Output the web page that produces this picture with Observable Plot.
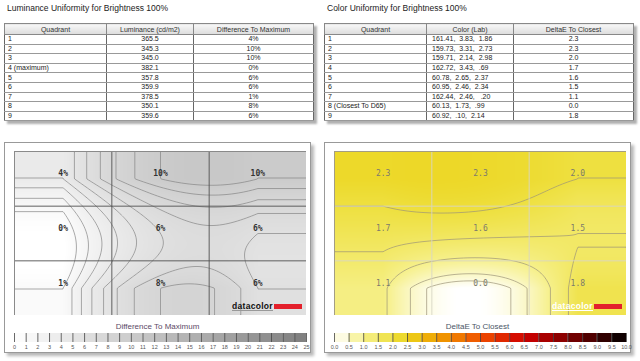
<!DOCTYPE html>
<html><head><meta charset="utf-8">
<script src="https://cdn.jsdelivr.net/npm/d3@7"></script>
<script src="https://cdn.jsdelivr.net/npm/@observablehq/plot@0.6"></script>
<style>
body{margin:0;background:#fff;font-family:"Liberation Sans",Arial,sans-serif;}
#root{position:relative;width:640px;height:361px;overflow:hidden;background:#fff;}
.abs{position:absolute;}
.title{font-size:8.5px;color:#222;white-space:nowrap;}
table{position:absolute;border-collapse:collapse;font-size:7px;color:#222;box-shadow:3px 3px 2px #b0b0b0;table-layout:fixed;border:1px solid #777;}
th{font-weight:normal;padding:0;border:1px solid #888;background:linear-gradient(#f7f7f7,#dcdcdc);color:#333;line-height:9px;height:10px;}
td{padding:0 3px;border-top:1px solid #999;border-bottom:1px solid #999;border-left:1px solid #666;border-right:1px solid #666;line-height:8px;height:8.6px;white-space:pre;overflow:hidden;color:#222;}
td.c{text-align:center;}
.panel{position:absolute;border:1px solid #999;box-shadow:3px 3px 3px #b8b8b8;background:#fff;box-sizing:border-box;}
.ltitle{position:absolute;font-size:8px;text-align:center;white-space:nowrap;}
.logo{position:absolute;display:flex;align-items:center;white-space:nowrap;}
.logo span.t{font:bold 8.5px "Liberation Sans",Arial,sans-serif;letter-spacing:0.3px;border-bottom:1px solid #999;line-height:8px;}
.logo span.b{display:inline-block;width:28px;height:5px;background:#e3202c;margin-left:1px;}
</style></head>
<body><div id="root"></div>
<script>
// ---- data ----
const lumTitle = "Luminance Uniformity for Brightness 100%";
const colTitle = "Color Uniformity for Brightness 100%";
const lumHeaders = ["Quadrant", "Luminance (cd/m2)", "Difference To Maximum"];
const colHeaders = ["Quadrant", "Color (Lab)", "DeltaE To Closest"];
const lumQuadrants = ["1", "2", "3", "4 (maximum)", "5", "6", "7", "8", "9"];
const luminance = [365.5, 345.3, 345.0, 382.1, 357.8, 359.9, 378.5, 350.1, 359.6];
const diffToMax = [4, 10, 10, 0, 6, 6, 1, 8, 6];
const colQuadrants = ["1", "2", "3", "4", "5", "6", "7", "8 (Closest To D65)", "9"];
const labColor = ["161.41,  3.83,  1.86", "159.73,  3.31,  2.73", "159.71,  2.14,  2.98", "162.72,  3.43,  .69", "60.78,  2.65,  2.37", "60.95,  2.46,  2.34", "162.44,  2.46,   .20", "60.13,  1.73,  .99", "60.92,  .10,  2.14"];
const deltaE = [2.3, 2.3, 2.0, 1.7, 1.6, 1.5, 1.1, 0.0, 1.8];
const gridCols = [0, 1, 2];
const gridRows = [0, 1, 2];
const lumLegendTicks = [0,1,2,3,4,5,6,7,8,9,10,11,12,13,14,15,16,17,18,19,20,21,22,23,24,25];
const deLegendTicks = [0,0.5,1,1.5,2,2.5,3,3.5,4,4.5,5,5.5,6,6.5,7,7.5,8,8.5,9,9.5,10];
const lumContours = [1,2,3,4,5,6,7,8,9,10];
const deContours = [0.25,0.5,1,1.5,2];
const lumLegendTitle = "Difference To Maximum";
const deLegendTitle = "DeltaE To Closest";
const logoText = "datacolor";

const grayScale = {type: "linear", domain: [0, 25], range: ["#ffffff", "#7e7e7e"], clamp: true, interpolate: "rgb"};
const heatScale = {type: "linear", domain: [0, 1, 2, 2.5, 3.5, 5, 6.5, 8, 10],
  range: ["#ffffff", "#f6f08a", "#eee040", "#ecd41c", "#f0a000", "#f05000", "#d00000", "#800000", "#000000"],
  clamp: true, interpolate: "rgb"};

const root = document.getElementById("root");
function el(tag, cls, style, text, parent) {
  const e = document.createElement(tag);
  if (cls) e.className = cls;
  Object.assign(e.style, style || {});
  if (text != null) e.textContent = text;
  (parent || root).appendChild(e);
  return e;
}

// ---- titles and tables ----
function table(left, headers, widths, c0, c1, c2, c1align) {
  const t = el("table", null, {left: left + "px", top: "23px", width: "309px"});
  const cg = document.createElement("colgroup");
  widths.forEach(w => { const c = document.createElement("col"); c.style.width = w + "px"; cg.appendChild(c); });
  t.appendChild(cg);
  const hr = document.createElement("tr");
  headers.forEach(h => { const th = document.createElement("th"); th.textContent = h; hr.appendChild(th); });
  t.appendChild(hr);
  c0.forEach((q, i) => {
    const tr = document.createElement("tr");
    [[q, ""], [c1[i], c1align], [c2[i], "c"]].forEach(([v, cls]) => {
      const td = document.createElement("td"); td.textContent = v; if (cls) td.className = cls; tr.appendChild(td);
    });
    t.appendChild(tr);
  });
  return t;
}
el("div", "title abs", {left: "7px", top: "3px"}, lumTitle);
el("div", "title abs", {left: "327px", top: "3px"}, colTitle);
table(4, lumHeaders, [102, 87, 120], lumQuadrants, luminance.map(d => d.toFixed(1)), diffToMax.map(d => d + "%"), "c");
const t2 = table(324, colHeaders, [102, 87, 120], colQuadrants, labColor, deltaE.map(d => d.toFixed(1)), "");
t2.querySelectorAll("tr td:nth-child(2)").forEach(td => td.style.paddingLeft = "5px");

// ---- panels ----
el("div", "panel", {left: "4px", top: "142px", width: "307px", height: "211px"});
el("div", "panel", {left: "324px", top: "142px", width: "307px", height: "211px"});

// smooth field through the 9 quadrant values (quadratic between centres, held flat beyond them)
function field(values) {
  const lo = gridCols[0], hi = gridCols[2], mid = gridCols[1];
  return (x, y) => {
    const u = Math.max(lo, Math.min(hi, x)) - mid, v = Math.max(gridRows[0], Math.min(gridRows[2], y)) - gridRows[1];
    const wx = [u * (u - 1) / 2, 1 - u * u, u * (u + 1) / 2];
    const wy = [v * (v - 1) / 2, 1 - v * v, v * (v + 1) / 2];
    let s = 0;
    for (let r = 0; r < 3; r++) for (let c = 0; c < 3; c++) s += wy[r] * wx[c] * values[r * 3 + c];
    return s;
  };
}

function heatmap(opts) {
  const {values, labels, color, thresholds, contourStroke, gridStroke, frameStroke, text} = opts;
  const cells = values.map((v, i) => ({c: gridCols[i % 3], r: gridRows[Math.floor(i / 3)], v, label: labels[i]}));
  const bounds = gridCols.slice(1).map(c => c - 0.5);
  const ext = {x1: gridCols[0] - 0.5, x2: gridCols[2] + 0.5, y1: gridRows[0] - 0.5, y2: gridRows[2] + 0.5};
  const f = field(values);
  return Plot.plot({
    width: 292, height: 164, margin: 0,
    x: {domain: [ext.x1, ext.x2], axis: null},
    y: {domain: [ext.y1, ext.y2], reverse: true, axis: null},
    color,
    marks: [
      Plot.raster({...ext, fill: f, pixelSize: 1}),
      Plot.contour({...ext, value: f, thresholds, fill: "none", stroke: contourStroke, strokeWidth: 0.7, pixelSize: 1}),
      Plot.ruleX(bounds, {stroke: gridStroke, strokeWidth: 0.9}),
      Plot.ruleY(bounds, {stroke: gridStroke, strokeWidth: 0.9}),
      Plot.frame({stroke: frameStroke}),
      Plot.text(cells, {x: "c", y: "r", text: "label", dy: -5, ...text})
    ]
  });
}

function place(node, left, top) {
  const d = el("div", "abs", {left: left + "px", top: top + "px", lineHeight: "0"});
  d.appendChild(node);
}

place(heatmap({values: diffToMax, labels: diffToMax.map(d => d + "%"), color: grayScale, thresholds: lumContours,
  contourStroke: "#858585", gridStroke: "#505050", frameStroke: "#8a8a8a",
  text: {fontFamily: "DejaVu Sans Mono", fontWeight: "bold", fontSize: 8, fill: "#333"}}), 14, 151);
place(heatmap({values: deltaE, labels: deltaE.map(d => d.toFixed(1)), color: heatScale, thresholds: deContours,
  contourStroke: "#9c9478", gridStroke: "#d8d6c4", frameStroke: "#a39d84",
  text: {fontFamily: "DejaVu Sans Mono", fontSize: 8, fill: "#7c7a6c", letterSpacing: "1px"}}), 334, 151);

// logos
function logo(left, col) {
  const d = el("div", "logo", {left: left + "px", top: "302px"});
  el("span", "t", {color: col, borderBottomColor: col === "#fff" ? "#fff" : "#999"}, logoText, d);
  el("span", "b", {}, null, d);
}
logo(232, "#111");
logo(552, "#fff");

// ---- legends ----
function legend(ticks, color, fmt) {
  const bins = ticks.slice(0, -1).map((t, i) => ({a: t, b: ticks[i + 1], m: (t + ticks[i + 1]) / 2}));
  return Plot.plot({
    width: 302, height: 18, marginLeft: 5, marginRight: 5, marginTop: 0, marginBottom: 9,
    x: {domain: [ticks[0], ticks[ticks.length - 1]], axis: null},
    y: {axis: null},
    color,
    style: {fontFamily: "Liberation Sans", overflow: "visible"},
    marks: [
      Plot.rect(bins, {x1: "a", x2: "b", fill: "m"}),
      Plot.ruleX(ticks, {stroke: "#444", strokeWidth: 0.8}),
      Plot.axisX(ticks, {tickSize: 0, tickPadding: 3, fontSize: 5.5, fill: "#555", tickFormat: fmt})
    ]
  });
}
el("div", "ltitle", {left: "4px", width: "307px", top: "322px", color: "#5c4a66"}, lumLegendTitle);
el("div", "ltitle", {left: "324px", width: "307px", top: "322px", color: "#4a5566"}, deLegendTitle);
place(legend(lumLegendTicks, grayScale, d => String(d)), 9, 333);
place(legend(deLegendTicks, heatScale, d => d.toFixed(1)), 329, 333);
</script></body></html>
